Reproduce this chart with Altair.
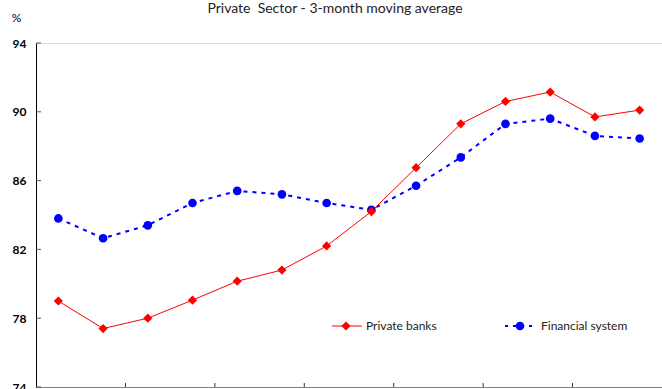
import altair as alt
import pandas as pd

# 3-month moving average, in percent
periods = list(range(1, 15))
private_banks = [79.0, 77.4, 78.0, 79.05, 80.15, 80.8, 82.2, 84.2, 86.75, 89.3, 90.6, 91.15, 89.7, 90.1]
financial_system = [83.8, 82.65, 83.4, 84.7, 85.4, 85.2, 84.7, 84.3, 85.7, 87.35, 89.3, 89.6, 88.6, 88.45]
y_ticks = [74, 78, 82, 86, 90, 94]
x_ticks = [3, 5, 7, 9, 11, 13]
series_names = ["Private banks", "Financial system"]

RED = "#ff0000"
BLUE = "#0000ff"
FONT = "Lato"
W, H = 626, 344

pb = pd.DataFrame({"period": periods, "value": private_banks})
fs = pd.DataFrame({"period": periods, "value": financial_system})

x_scale = alt.Scale(type="band", domain=periods, paddingInner=0, paddingOuter=0)
y_scale = alt.Scale(domain=[74, 94], nice=False, zero=False)

x_axis = alt.Axis(labels=False, ticks=False, title=None,
                  domainColor="#808080", domainWidth=1.2)
y_axis = alt.Axis(values=y_ticks, ticks=False, labelPadding=10,
                  labelFont=FONT, labelFontSize=12, labelFontWeight="bold",
                  labelColor="#000000", domainColor="#000000",
                  grid=False, title="%", titleAngle=0, titleX=-20,
                  titleY=-26, titleAlign="center", titleBaseline="middle",
                  titleFont=FONT, titleFontSize=12,
                  titleFontWeight="normal", titleColor="#000000")

x_enc = alt.X("period:O", scale=x_scale, axis=x_axis)
y_enc = alt.Y("value:Q", scale=y_scale, axis=y_axis)

pb_line = alt.Chart(pb).mark_line(color=RED, strokeWidth=1).encode(x=x_enc, y=y_enc)
pb_pts = alt.Chart(pb).mark_point(shape="diamond", filled=True, color=RED,
                                  size=85, opacity=1).encode(x=x_enc, y=y_enc)
fs_line = alt.Chart(fs).mark_line(color=BLUE, strokeWidth=2,
                                  strokeDash=[4, 5]).encode(x=x_enc, y=y_enc)
fs_pts = alt.Chart(fs).mark_point(shape="circle", filled=True, color=BLUE,
                                  size=75, opacity=1).encode(x=x_enc, y=y_enc)

# inward tick marks on both axes
y_tick_marks = alt.Chart(pd.DataFrame({"value": y_ticks})).mark_rule(
    color="#555555", strokeWidth=1
).encode(y=y_enc, x=alt.value(0), x2=alt.value(5))
x_tick_marks = alt.Chart(pd.DataFrame({"period": x_ticks})).mark_rule(
    color="#333333", strokeWidth=1
).encode(x=alt.X("period:O", scale=x_scale, axis=x_axis, bandPosition=0),
         y=alt.value(H - 4), y2=alt.value(H))

# legend keys
LEG_Y = 283
leg_pb = pd.DataFrame({"label": [series_names[0]]})
leg_fs = pd.DataFrame({"label": [series_names[1]]})
leg = [
    alt.Chart(leg_pb).mark_rule(color=RED, strokeWidth=1).encode(
        x=alt.value(296), x2=alt.value(326), y=alt.value(LEG_Y)),
    alt.Chart(leg_pb).mark_point(shape="diamond", filled=True, color=RED,
                                 size=85, opacity=1).encode(
        x=alt.value(310), y=alt.value(LEG_Y)),
    alt.Chart(leg_pb).mark_text(align="left", baseline="middle", font=FONT,
                                fontSize=12, color="#222222").encode(
        x=alt.value(330), y=alt.value(LEG_Y), text="label:N"),
    alt.Chart(leg_fs).mark_rule(color=BLUE, strokeWidth=2, strokeDash=[3, 5]).encode(
        x=alt.value(469), x2=alt.value(501), y=alt.value(LEG_Y)),
    alt.Chart(leg_fs).mark_point(shape="circle", filled=True, color=BLUE,
                                 size=75, opacity=1).encode(
        x=alt.value(484), y=alt.value(LEG_Y)),
    alt.Chart(leg_fs).mark_text(align="left", baseline="middle", font=FONT,
                                fontSize=12, color="#222222").encode(
        x=alt.value(505), y=alt.value(LEG_Y), text="label:N"),
]

chart = alt.layer(
    fs_line, pb_line, y_tick_marks, x_tick_marks, fs_pts, pb_pts, *leg
).properties(
    width=W, height=H,
    title=alt.TitleParams("Private\u00a0 Sector - 3-month moving average",
                          font=FONT, fontSize=14, fontWeight="normal",
                          color="#222222", anchor="middle", dx=-14,
                          offset=0, dy=5),
    autosize=alt.AutoSizeParams(type="none"),
    padding={"left": 36, "top": 43, "right": 0, "bottom": 2},
).configure_view(stroke=None).configure(background="#ffffff")

chart.save("out.html", embed_options={"renderer": "svg", "actions": False})
